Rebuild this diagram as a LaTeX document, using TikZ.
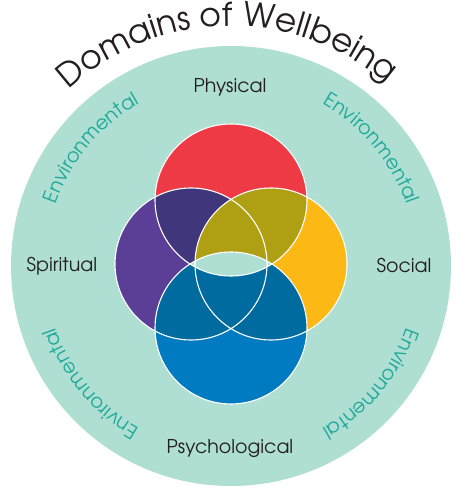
\documentclass[tikz,border=0pt]{standalone}
\usepackage{fontspec}
\usetikzlibrary{decorations.text}
\newfontfamily\gothic{TeX Gyre Adventor}
\definecolor{ringteal}{HTML}{AFDFD3}
\definecolor{envteal}{HTML}{1DA99A}
\definecolor{labelgray}{HTML}{231F20}
\definecolor{vred}{HTML}{EE3A45}
\definecolor{vpurple}{HTML}{5B3F97}
\definecolor{vorange}{HTML}{FCB815}
\definecolor{vblue}{HTML}{007BC2}
\definecolor{vdarkpurple}{HTML}{3F367B}
\definecolor{volive}{HTML}{AEA012}
\definecolor{vdarkblue}{HTML}{006B9F}
\def\ctop{(0,66) circle (76pt)}
\def\cbot{(0,-62) circle (76pt)}
\def\cleft{(-40,2) circle (76pt)}
\def\cright{(40,2) circle (76pt)}

\begin{document}
\begin{tikzpicture}[x=1pt, y=1pt,
  domainlabel/.style={font=\gothic\fontsize{19}{19}\selectfont, text=labelgray, inner sep=0pt, anchor=base}]
        \useasboundingbox (-231,-234) rectangle (239,266);
        \fill[ringteal] (0,0) circle (220pt);
        \path[decorate, decoration={text along path, text align=center,
            text={|\gothic\fontsize{33}{33}\selectfont\color{labelgray}|Domains of Wellbeing}}]
            (151:240pt) arc[start angle=151, end angle=31, radius=240pt];
        \foreach \a in {140,40,-40,-140} {
            \path[decorate, decoration={text along path, text align=center,
                text={|\gothic\fontsize{19.5}{19.5}\selectfont\color{envteal}|Environmental}}]
                ({\a+32}:186pt) arc[start angle={\a+32}, end angle={\a-32}, radius=186pt];
        }
        \fill[vpurple] \cleft;
        \fill[vorange] \cright;
        \fill[vred] \ctop;
        \begin{scope}
            \clip \ctop;
            \fill[vdarkpurple] \cleft;
            \fill[volive] \cright;
        \end{scope}
        \fill[vblue] \cbot;
        \begin{scope}
            \clip \cbot;
            \fill[vdarkblue] \cleft;
            \fill[vdarkblue] \cright;
        \end{scope}
        \begin{scope}
            \clip \ctop;
            \fill[ringteal] \cbot;
        \end{scope}
        \draw[white, line width=1.1pt] \ctop \cbot \cleft \cright;
        \node[domainlabel] (physical) at (-1,173) {Physical};
        \node[domainlabel] (spiritual) at (-169,-6) {Spiritual};
        \node[domainlabel] (social) at (173,-7) {Social};
        \node[domainlabel] (psychological) at (-1,-187) {Psychological};
\end{tikzpicture}
\end{document}
